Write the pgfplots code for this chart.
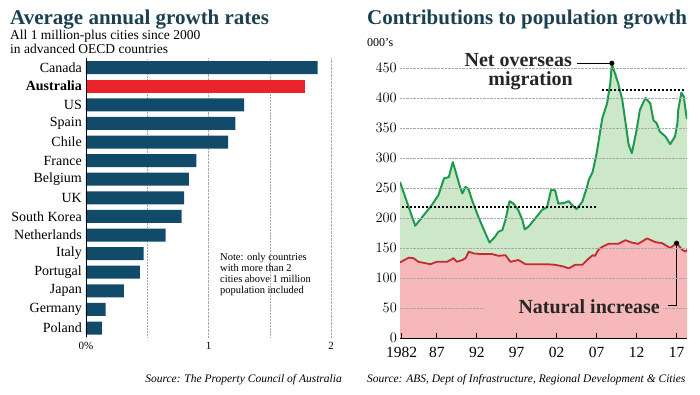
\documentclass[border=0pt]{standalone}
\usepackage{pgfplots}
\pgfplotsset{compat=1.18}
\usepackage{fontspec}
\setmainfont{Liberation Serif}
\definecolor{titleteal}{HTML}{1B4150}
\definecolor{barnavy}{HTML}{124A6A}
\definecolor{barred}{HTML}{E8232B}
\definecolor{nomgreen}{HTML}{1E9A50}
\definecolor{nomfill}{HTML}{CDE8C9}
\definecolor{natred}{HTML}{C42A30}
\definecolor{natfill}{HTML}{F6B8BA}
\definecolor{gridgrey}{HTML}{A8A8A8}
\begin{document}
\begin{tikzpicture}[x=1pt,y=1pt]
\path[use as bounding box] (0,0) rectangle (700,394);
% ---------- titles ----------
\node[anchor=base west, inner sep=0, text=titleteal, font=\fontsize{21}{24}\selectfont\bfseries] at (10,369) {Average annual growth rates};
\node[anchor=base west, inner sep=0, font=\fontsize{13.5}{14}\selectfont] at (10,354) {All 1 million-plus cities since 2000};
\node[anchor=base west, inner sep=0, font=\fontsize{13.5}{14}\selectfont] at (10,340) {in advanced OECD countries};
\node[anchor=base west, inner sep=0, text=titleteal, font=\fontsize{21}{24}\selectfont\bfseries] at (367,369) {Contributions to population growth};
\node[anchor=base west, inner sep=0, font=\fontsize{12}{14}\selectfont] at (367,347) {000's};
% ---------- left chart ----------
\begin{axis}[
  at={(86pt,56.7pt)}, anchor=south west, scale only axis,
  width=245pt, height=279pt,
  xmin=0, xmax=2, ymin=-0.5, ymax=14.5,
  xbar, bar width=13pt, bar shift=0pt,
  axis line style={draw=none},
  xtick={0,1,2}, xticklabels={0\%,1,2},
  minor xtick={0.5,1.5},
  xmajorgrids, xminorgrids,
  grid style={gridgrey, densely dotted, line width=0.5pt},
  minor grid style={gridgrey, densely dotted, line width=0.5pt},
  major tick length=0pt, minor tick length=0pt,
  ytick={0,...,14},
  yticklabels={Poland,Germany,Japan,Portugal,Italy,Netherlands,South Korea,UK,Belgium,France,Chile,Spain,US,\textbf{Australia},Canada},
  yticklabel style={font=\fontsize{14}{16}\selectfont, inner sep=0pt, xshift=-4pt},
  xticklabel style={font=\fontsize{11}{13}\selectfont, inner sep=0pt, yshift=-5pt},
]
\addplot[fill=barnavy, draw=none] coordinates {
 (0.13,0) (0.16,1) (0.31,2) (0.44,3) (0.47,4) (0.65,5) (0.78,6) (0.80,7)
 (0.84,8) (0.90,9) (1.16,10) (1.22,11) (1.29,12) (1.89,14)};
\addplot[fill=barred, draw=none] coordinates {(1.79,13)};
\draw[black, line width=0.5pt] (axis cs:0,-0.5) -- (axis cs:0,14.5);
\end{axis}
\node[anchor=base west, inner sep=0, align=left, font=\fontsize{10.5}{11}\selectfont] at (220,100.7) {Note: only countries\\with more than 2\\cities above 1 million\\population included};
\node[anchor=base east, inner sep=0, font=\fontsize{11.5}{13}\selectfont\itshape] at (342,12) {Source: The Property Council of Australia};
% ---------- right chart ----------
\begin{axis}[
  at={(400pt,56pt)}, anchor=south west, scale only axis,
  width=287pt, height=282pt,
  xmin=1982.4, xmax=2018.3, ymin=0, ymax=470,
  axis on top,
  axis x line*=bottom, axis y line*=left,
  y axis line style={draw=none},
  x axis line style={black, line width=0.6pt},
  ytick={0,50,...,450},
  ymajorgrids, grid style={gridgrey, densely dotted, line width=0.5pt},
  xtick={1982.6,1987,1992,1997,2002,2007,2012,2017},
  xticklabels={1982,87,92,97,02,07,12,17},
  xtick style={black, line width=0.6pt},
  ytick style={draw=none},
  tick align=inside, major tick length=5pt,
  yticklabel style={font=\fontsize{15.5}{17}\selectfont, inner sep=0pt, xshift=-3pt},
  xticklabel style={font=\fontsize{15.5}{17}\selectfont, inner sep=0pt, yshift=-9pt},
]
\addplot[draw=none, fill=nomfill] coordinates {
(1982.4,260) (1984.3,187) (1985.2,202) (1986.4,222) (1987.2,238) (1987.9,266)
(1988.5,268) (1989.0,293) (1989.3,280) (1989.9,252) (1990.2,241) (1990.6,252)
(1991.0,247) (1991.4,230) (1992.2,202) (1992.9,180) (1993.6,159) (1994.3,169)
(1994.7,177) (1995.2,180) (1995.6,197) (1996.1,228) (1996.6,224) (1997.2,213)
(1997.7,197) (1998.0,181) (1998.5,186) (1999.3,199) (2000.2,214) (2000.8,218)
(2001.3,247) (2001.8,246) (2002.2,224) (2002.9,225) (2003.5,228) (2003.9,222)
(2004.5,215) (2005.2,227) (2005.8,252) (2006.0,263) (2006.5,277) (2007.0,308)
(2007.4,341) (2007.7,366) (2008.3,391) (2008.7,424) (2008.9,457) (2009.7,424)
(2010.2,397) (2010.6,360) (2011.0,322) (2011.4,308) (2012.0,347) (2012.4,380)
(2013.1,400) (2013.7,391) (2014.1,363) (2014.5,358) (2014.9,344) (2015.6,336)
(2016.2,323) (2016.8,336) (2017.1,358) (2017.2,380) (2017.6,409) (2017.9,402)
(2018.2,372) (2018.3,365)} \closedcycle;
\addplot[draw=none, fill=natfill] coordinates {
(1982.4,126) (1983.5,134) (1984.1,133) (1984.7,127) (1986.2,123) (1987.0,127)
(1988.3,127) (1989.1,133) (1989.5,127) (1990.2,130) (1990.6,133) (1991.0,144)
(1991.6,141) (1992.45,140) (1993.9,140) (1994.7,137) (1995.6,138) (1996.2,127)
(1997.2,130) (1998.1,123) (1999.3,123) (2000.8,123) (2001.8,122) (2002.9,119)
(2003.5,116) (2004.3,122) (2005.2,122) (2005.8,130) (2006.5,138) (2006.8,137)
(2007.2,147) (2007.7,152) (2008.5,157) (2009.7,157) (2010.6,163) (2011.4,159)
(2012.2,157) (2013.3,166) (2014.3,160) (2015.2,158) (2016.2,150) (2016.7,155)
(2017.0,158) (2017.7,147) (2018.1,144) (2018.3,147)} \closedcycle;
\addplot[nomgreen, line width=2pt, line join=round] coordinates {
(1982.4,260) (1984.3,187) (1985.2,202) (1986.4,222) (1987.2,238) (1987.9,266)
(1988.5,268) (1989.0,293) (1989.3,280) (1989.9,252) (1990.2,241) (1990.6,252)
(1991.0,247) (1991.4,230) (1992.2,202) (1992.9,180) (1993.6,159) (1994.3,169)
(1994.7,177) (1995.2,180) (1995.6,197) (1996.1,228) (1996.6,224) (1997.2,213)
(1997.7,197) (1998.0,181) (1998.5,186) (1999.3,199) (2000.2,214) (2000.8,218)
(2001.3,247) (2001.8,246) (2002.2,224) (2002.9,225) (2003.5,228) (2003.9,222)
(2004.5,215) (2005.2,227) (2005.8,252) (2006.0,263) (2006.5,277) (2007.0,308)
(2007.4,341) (2007.7,366) (2008.3,391) (2008.7,424) (2008.9,457) (2009.7,424)
(2010.2,397) (2010.6,360) (2011.0,322) (2011.4,308) (2012.0,347) (2012.4,380)
(2013.1,400) (2013.7,391) (2014.1,363) (2014.5,358) (2014.9,344) (2015.6,336)
(2016.2,323) (2016.8,336) (2017.1,358) (2017.2,380) (2017.6,409) (2017.9,402)
(2018.2,372) (2018.3,365)};
\addplot[natred, line width=1.8pt, line join=round] coordinates {
(1982.4,126) (1983.5,134) (1984.1,133) (1984.7,127) (1986.2,123) (1987.0,127)
(1988.3,127) (1989.1,133) (1989.5,127) (1990.2,130) (1990.6,133) (1991.0,144)
(1991.6,141) (1992.45,140) (1993.9,140) (1994.7,137) (1995.6,138) (1996.2,127)
(1997.2,130) (1998.1,123) (1999.3,123) (2000.8,123) (2001.8,122) (2002.9,119)
(2003.5,116) (2004.3,122) (2005.2,122) (2005.8,130) (2006.5,138) (2006.8,137)
(2007.2,147) (2007.7,152) (2008.5,157) (2009.7,157) (2010.6,163) (2011.4,159)
(2012.2,157) (2013.3,166) (2014.3,160) (2015.2,158) (2016.2,150) (2016.7,155)
(2017.0,158) (2017.7,147) (2018.1,144) (2018.3,147)};
% average lines
\addplot[black, line width=2pt, dash pattern=on 2pt off 2pt] coordinates {(1982.7,219) (2007.2,219)};
\addplot[black, line width=2pt, dash pattern=on 2pt off 2pt] coordinates {(2007.7,413) (2018.1,413)};
% leaders and dots
\addplot[black, line width=0.6pt] coordinates {(2004.5,458) (2008.9,458)};
\addplot[black, line width=0.6pt] coordinates {(2015.9,55) (2017.0,55) (2017.0,158)};
\addplot[only marks, mark=*, mark size=2.3pt, black] coordinates {(2008.9,458) (2017.0,158)};
\end{axis}
% annotation labels
\fill[natfill] (485,77) rectangle (663,98);
\node[anchor=base east, inner sep=0, font=\fontsize{20}{22}\selectfont\bfseries, text=black!85] at (660,80.7) {Natural increase};
\node[anchor=base east, inner sep=1pt, fill=white, font=\fontsize{20}{22}\selectfont\bfseries, text=black!85] at (573,327.3) {Net overseas};
\node[anchor=base east, inner sep=0, font=\fontsize{20}{22}\selectfont\bfseries, text=black!85] at (573,308) {migration};
\node[anchor=base west, inner sep=0, font=\fontsize{11.5}{13}\selectfont\itshape] at (367,12) {Source: ABS, Dept of Infrastructure, Regional Development \& Cities};
\end{tikzpicture}
\end{document}
